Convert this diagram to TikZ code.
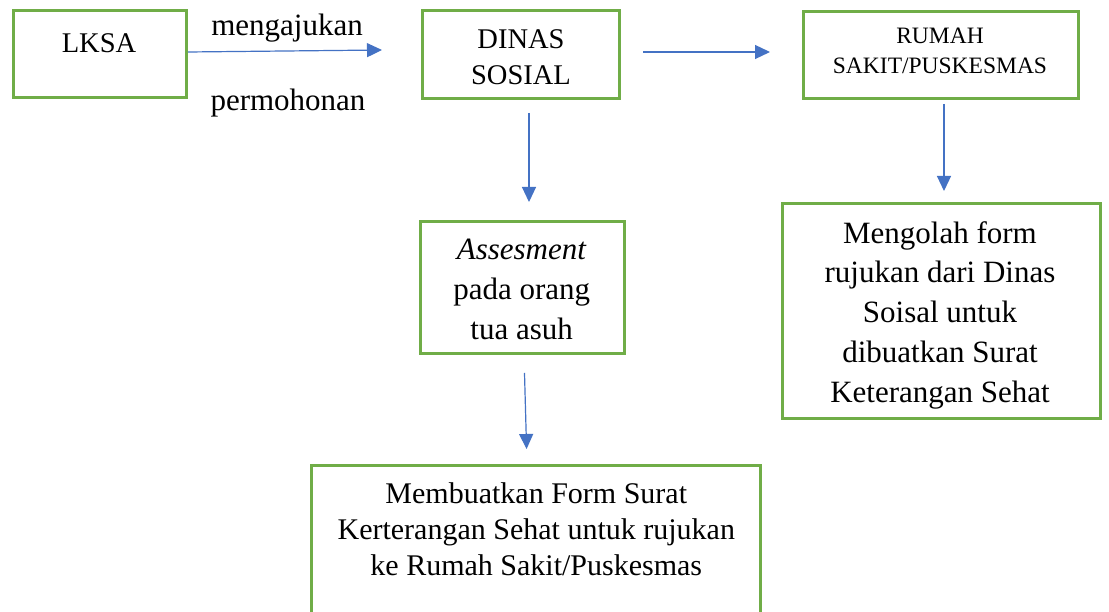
\documentclass[tikz,border=0pt]{standalone}
\usepackage{fontspec}
\setmainfont{Liberation Serif}
\usetikzlibrary{arrows.meta,positioning}
\definecolor{boxgreen}{HTML}{70AD47}
\definecolor{flowblue}{HTML}{4472C4}
\tikzset{
  box/.style 2 args={draw=boxgreen,line width=3pt,inner sep=0pt,minimum width=#1pt,minimum height=#2pt},
  txt/.style={align=center,inner sep=0pt},
  flow/.style={-{Triangle[length=15pt,width=14pt]},line width=1.2pt,flowblue}
}
\begin{document}
\begin{tikzpicture}[x=1pt,y=-1pt]
    \useasboundingbox[fill=white] (0,0) rectangle (1109,612);
    \node[box={173}{87}] (lksa) at (100,54) {};
    \node[box={197}{88}] (dinas) at (521,54.5) {};
    \node[box={275}{87}] (rumah) at (941,55) {};
    \node[box={204}{132}] (assess) at (522.5,287.5) {};
    \node[box={318}{215}] (olah) at (941.5,311) {};
    \node[box={449}{195}] (form) at (536,563) {};
    \node[txt,font=\fontsize{28.5}{36}\selectfont] (lksatext) at (99,43.6) {LKSA};
    \node[txt,font=\fontsize{28.5}{36}\selectfont] (dinastext) at (521,57.6) {DINAS\\SOSIAL};
    \node[txt,font=\fontsize{23.5}{30}\selectfont] (rumahtext) at (940,51.3) {RUMAH\\SAKIT/PUSKESMAS};
    \node[txt,font=\fontsize{31}{40}\selectfont] (assesstext) at (521.7,289.5) {\textit{Assesment}\\pada orang\\tua asuh};
    \node[txt,font=\fontsize{31}{39.75}\selectfont] (olahtext) at (940,315) {Mengolah form\\rujukan dari Dinas\\Soisal untuk\\dibuatkan Surat\\Keterangan Sehat};
    \node[txt,font=\fontsize{30}{36}\selectfont] (formtext) at (536.3,529) {Membuatkan Form Surat\\Kerterangan Sehat untuk rujukan\\ke Rumah Sakit/Puskesmas};
    \node[txt,font=\fontsize{31}{40}\selectfont] (ask) at (287,27.8) {mengajukan};
    \node[txt,font=\fontsize{31}{40}\selectfont] (request) at (288,103) {permohonan};
    \coordinate (lksaend) at (382,50);
    \draw[flow] ([yshift=2pt]lksa.east) -- (lksaend);
    \draw[flow,shorten <=22pt,shorten >=32pt] ([yshift=2.5pt]dinas.east) -- ([yshift=2.5pt]dinas.east -| rumah.west);
    \draw[flow,shorten <=13pt,shorten >=18pt] ([xshift=8pt]dinas.south) -- ([xshift=8pt]dinas.south |- assess.north);
    \draw[flow,shorten <=4pt,shorten >=11pt] ([xshift=3pt]rumah.south) -- ([xshift=3pt]rumah.south |- olah.north);
    \draw[flow,shorten <=18pt,shorten >=15pt] ([xshift=1.5pt]assess.south) -- ([xshift=-9pt]form.north);
  \end{tikzpicture}
\end{document}
